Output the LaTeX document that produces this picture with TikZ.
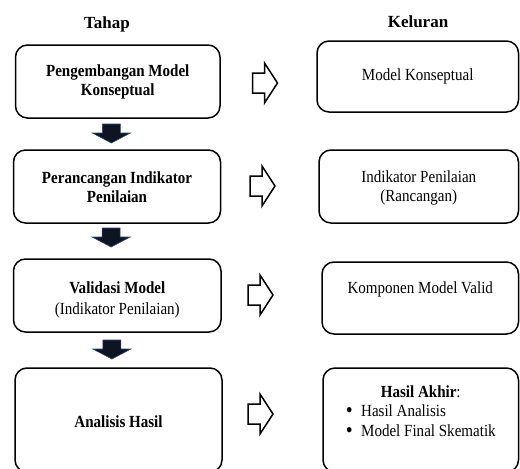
\documentclass[tikz,border=0pt]{standalone}
\usepackage{fontspec}
\setmainfont{Liberation Serif}[FakeStretch=0.885]
\newfontfamily\titlefont{Liberation Serif}
\usetikzlibrary{calc}
\definecolor{navyfill}{RGB}{15,20,35}
\definecolor{navyedge}{RGB}{40,70,120}
\newcommand{\bigbul}{\smash{\raisebox{-0.8pt}{\scalebox{1.3}{•}}}}
\begin{document}
\begin{tikzpicture}[x=1pt,y=-1pt,
  box/.style={draw=black, line width=1.5pt, rounded corners=12pt, fill=white, inner sep=0pt},
  txt/.style={align=center, inner sep=0pt, font=\fontsize{17}{19}\selectfont},
  btxt/.style={align=center, inner sep=0pt, font=\fontsize{17}{19}\selectfont\bfseries},
  ttl/.style={inner sep=0pt, anchor=base, font=\titlefont\fontsize{17}{19}\selectfont\bfseries},
  hollowarrow/.pic={\draw[line width=1.5pt, fill=white, line join=miter]
     (-13,-10) -- (-1,-10) -- (-1,-20) -- (12,0) -- (-1,20) -- (-1,10) -- (-13,10) -- cycle;},
  downarrow/.pic={\filldraw[fill=navyfill, draw=navyedge, line width=0.6pt, line join=miter]
     (-9,-10) -- (9,-10) -- (9,-1) -- (19,-1) -- (0,9) -- (-19,-1) -- (-9,-1) -- cycle;}]
\useasboundingbox (0,0) rectangle (520,469);
\clip (0,0) rectangle (520,469);

% titles
\node[ttl] (tahap) at (107,28) {Tahap};
\node[ttl] (keluran) at (418,27) {Keluran};

% left boxes
\node[box, minimum width=204.5pt, minimum height=73pt] (L1) at (117.75,81.5) {};
\node[box, minimum width=207pt, minimum height=73pt] (L2) at (117,186.5) {};
\node[box, minimum width=207.5pt, minimum height=73pt] (L3) at (117.25,295.5) {};
\node[box, minimum width=207pt, minimum height=104pt] (L4) at (118.5,420) {};

% right boxes
\node[box, minimum width=201.5pt, minimum height=71pt] (R1) at (417.75,76.5) {};
\node[box, minimum width=199.5pt, minimum height=73pt] (R2) at (418.75,186.5) {};
\node[box, minimum width=196.5pt, minimum height=72pt] (R3) at (420.25,298) {};
\node[box, minimum width=195.5pt, minimum height=104pt] (R4) at (420.75,420) {};

% texts
\node[btxt] (L1t) at (L1.center) {Pengembangan Model\\Konseptual};
\node[btxt] (L2t) at ($(L2.center)+(0,0.5)$) {Perancangan Indikator\\Penilaian};
\node[txt] (L3t) at ($(L3.center)+(0,4.5)$) {\textbf{Validasi Model}\\[2pt](Indikator Penilaian)};
\node[btxt] (L4t) at ($(L4.center)+(0,2)$) {Analisis Hasil};

\node[txt] (R1t) at (R1.center) {Model Konseptual};
\node[txt] (R2t) at ($(R2.center)+(0,1)$) {Indikator Penilaian\\(Rancangan)};
\node[txt] (R3t) at ($(R3.center)+(0,-9)$) {Komponen Model Valid};
\node[txt] (R4t) at ($(R4.center)+(0,-7)$) {\def\arraystretch{1.05}\begin{tabular}{@{}l@{}}
  \multicolumn{1}{@{}c@{}}{\textbf{Hasil Akhir}:}\\
  \bigbul\hspace{8.5pt}Hasil Analisis\\
  \bigbul\hspace{8.5pt}Model Final Skematik
\end{tabular}};

% down arrows between stages
\coordinate (d1) at ($(L1.south)!0.5!(L2.north)+(-6,0)$);
\coordinate (d2) at ($(L2.south)!0.5!(L3.north)+(-6,-3)$);
\coordinate (d3) at ($(L3.south)!0.5!(L4.north)+(-6,0)$);
\pic at (d1) {downarrow};
\pic at (d2) {downarrow};
\pic at (d3) {downarrow};

% hollow arrows stage -> output
\coordinate (h1) at (265.5,83);
\coordinate (h2) at (263,186);
\coordinate (h3) at (261,295);
\coordinate (h4) at (261,414);
\pic at (h1) {hollowarrow};
\pic at (h2) {hollowarrow};
\pic at (h3) {hollowarrow};
\pic at (h4) {hollowarrow};
\end{tikzpicture}
\end{document}
